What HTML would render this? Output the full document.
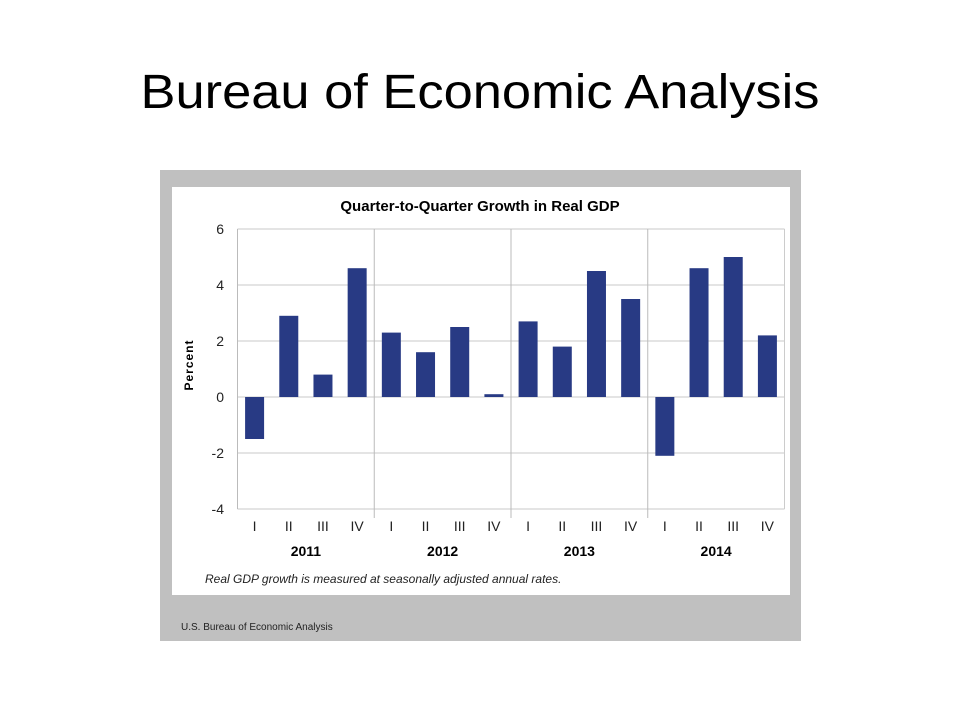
<!DOCTYPE html>
<html><head><meta charset="utf-8"><style>
body{margin:0;width:960px;height:720px;background:#fff;overflow:hidden;font-family:"Liberation Sans",sans-serif}
</style></head><body>
<svg id="chart" width="960" height="720" xmlns="http://www.w3.org/2000/svg">
<text x="480" y="108" text-anchor="middle" font-size="48" textLength="679" lengthAdjust="spacingAndGlyphs" fill="#000">Bureau of Economic Analysis</text>
<rect x="160" y="170" width="641" height="471" fill="#c0c0c0"/>
<rect x="172" y="187" width="618" height="408" fill="#fff"/>
<text x="480" y="211" text-anchor="middle" font-size="15" font-weight="bold">Quarter-to-Quarter Growth in Real GDP</text>
<text transform="translate(193,365) rotate(-90)" text-anchor="middle" font-size="12" font-weight="bold" letter-spacing="1">Percent</text>
<text x="205" y="583" font-size="12" font-style="italic" fill="#222">Real GDP growth is measured at seasonally adjusted annual rates.</text>
<text x="181" y="630" font-size="10" fill="#222">U.S. Bureau of Economic Analysis</text>
<g id="plot"></g>
</svg>
<script>
const quarters=["I","II","III","IV","I","II","III","IV","I","II","III","IV","I","II","III","IV"];
const years=["2011","2012","2013","2014"];
const values=[-1.5,2.9,0.8,4.6,2.3,1.6,2.5,0.1,2.7,1.8,4.5,3.5,-2.1,4.6,5.0,2.2];
const yTicks=[6,4,2,0,-2,-4];
const NS="http://www.w3.org/2000/svg";
const L=237.5,R=784.5,T=229,B=509,yMin=-4,yMax=6;
const slot=(R-L)/values.length;
function y(v){return B-(v-yMin)/(yMax-yMin)*(B-T);}
function x(i){return L+slot*i;}
const g=document.getElementById('plot');
function mk(t,a){const e=document.createElementNS(NS,t);for(const k in a)e.setAttribute(k,a[k]);g.appendChild(e);return e;}
yTicks.forEach(v=>{
 const l=mk('line',{x1:L,x2:R,y1:y(v),y2:y(v),stroke:'#c8c8c8','stroke-width':1});
 
 
 const t=mk('text',{x:224,y:y(v)+5,'text-anchor':'end','font-size':14,fill:'#222'});
 t.textContent=v;
 
 
});
const ax=mk('line',{x1:L,x2:L,y1:T,y2:B,stroke:'#bbb'});


const rx=mk('line',{x1:R,x2:R,y1:T,y2:B,stroke:'#ccc'});


const per=values.length/years.length;
years.forEach((yr,j)=>{
 if(j>0){const s=mk('line',{x1:x(j*per),x2:x(j*per),y1:T,y2:B+9,stroke:'#bbb'});
 
 }
 const t=mk('text',{x:(x(j*per)+x((j+1)*per))/2,y:556,'text-anchor':'middle','font-size':14,'font-weight':'bold'});
 t.textContent=yr;
 
 
});
values.forEach((v,i)=>{
 const cx=x(i)+slot/2,bw=19;
 const r=mk('rect',{x:cx-bw/2,y:Math.min(y(v),y(0)),width:bw,height:Math.abs(y(v)-y(0)),fill:'#283a84'});
 
 
 const t=mk('text',{x:cx,y:531,'text-anchor':'middle','font-size':14,fill:'#222'});
 t.textContent=quarters[i];
 
 
});
</script>
</body></html>
